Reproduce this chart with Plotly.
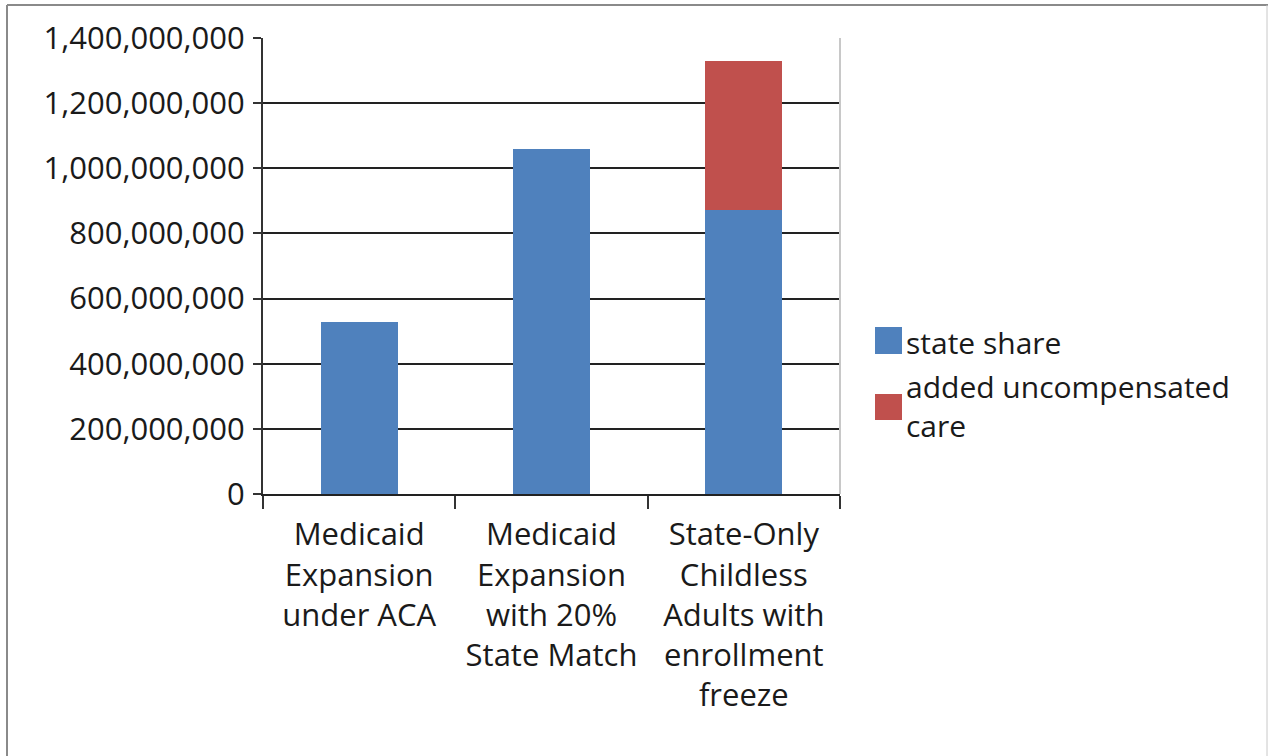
import plotly.graph_objects as go

categories = [
    "Medicaid<br>Expansion<br>under ACA",
    "Medicaid<br>Expansion<br>with 20%<br>State Match",
    "State-Only<br>Childless<br>Adults with<br>enrollment<br>freeze",
]
state_share = [527_000_000, 1_060_000_000, 872_000_000]
added_uncompensated_care = [0, 0, 456_000_000]
series_names = ["state share", "added uncompensated<br>care"]
y_ticks = [0, 200_000_000, 400_000_000, 600_000_000, 800_000_000,
           1_000_000_000, 1_200_000_000, 1_400_000_000]
y_tick_labels = ["0", "200,000,000", "400,000,000", "600,000,000", "800,000,000",
                 "1,000,000,000", "1,200,000,000", "1,400,000,000"]

BLUE = "#4f81bd"
RED = "#c0504d"
FONT = "Open Sans"

fig = go.Figure()
fig.add_trace(go.Bar(x=categories, y=state_share, name=series_names[0],
                     marker=dict(color=BLUE, line=dict(width=0)), showlegend=False))
fig.add_trace(go.Bar(x=categories, y=added_uncompensated_care, name=series_names[1],
                     marker=dict(color=RED, line=dict(width=0)), showlegend=False))

W, H = 1268, 756
L, R, T, B = 263, 840, 38, 494

fig.update_layout(
    width=W, height=H,
    barmode="stack", bargap=0.6,
    paper_bgcolor="white", plot_bgcolor="white",
    margin=dict(l=L, r=W - R, t=T, b=H - B, pad=0),
    font=dict(family=FONT, size=30, color="#1a1a1a"),
    xaxis=dict(
        showgrid=False, showline=True, linecolor="#222", linewidth=2,
        ticks="outside", ticklen=13, tickwidth=2, tickcolor="#333",
        tickson="boundaries", tickfont=dict(size=31),
        ticklabelstandoff=12,
    ),
    yaxis=dict(
        range=[0, 1_400_000_000], tickvals=y_ticks, ticktext=y_tick_labels,
        showgrid=True, gridcolor="#222", gridwidth=2,
        showline=True, linecolor="#333", linewidth=2,
        ticks="outside", ticklen=8, tickwidth=2, tickcolor="#333",
        zeroline=False, tickfont=dict(size=31),
        ticklabelstandoff=2,
    ),
)

# right plot border
fig.add_shape(type="line", xref="paper", yref="paper", x0=1, x1=1, y0=0, y1=1,
              line=dict(color="#c8c8c8", width=2))

def px_x(x):
    return (x - L) / (R - L)

def px_y(y):
    return (B - y) / (B - T)

# outer picture border (left, top, right)
fig.add_shape(type="line", xref="paper", yref="paper",
              x0=px_x(7), x1=px_x(7), y0=px_y(5), y1=px_y(760),
              line=dict(color="#8a8a8a", width=2))
fig.add_shape(type="line", xref="paper", yref="paper",
              x0=px_x(7), x1=px_x(1270), y0=px_y(5), y1=px_y(5),
              line=dict(color="#8a8a8a", width=2))
fig.add_shape(type="line", xref="paper", yref="paper",
              x0=px_x(1267), x1=px_x(1267), y0=px_y(5), y1=px_y(760),
              line=dict(color="#c8c8c8", width=1))

# legend (manual)
legend_items = [(BLUE, 327, 354, 342, series_names[0]),
                (RED, 394, 420, 406, series_names[1])]
for color, y0, y1, yc, name in legend_items:
    fig.add_shape(type="rect", xref="paper", yref="paper",
                  x0=px_x(875), x1=px_x(902), y0=px_y(y1), y1=px_y(y0),
                  fillcolor=color, line=dict(width=0))
    fig.add_annotation(xref="paper", yref="paper", x=px_x(904), y=px_y(yc),
                       text=name, showarrow=False, xanchor="left", yanchor="middle",
                       align="left", font=dict(size=30))

fig.write_html("out.html")
